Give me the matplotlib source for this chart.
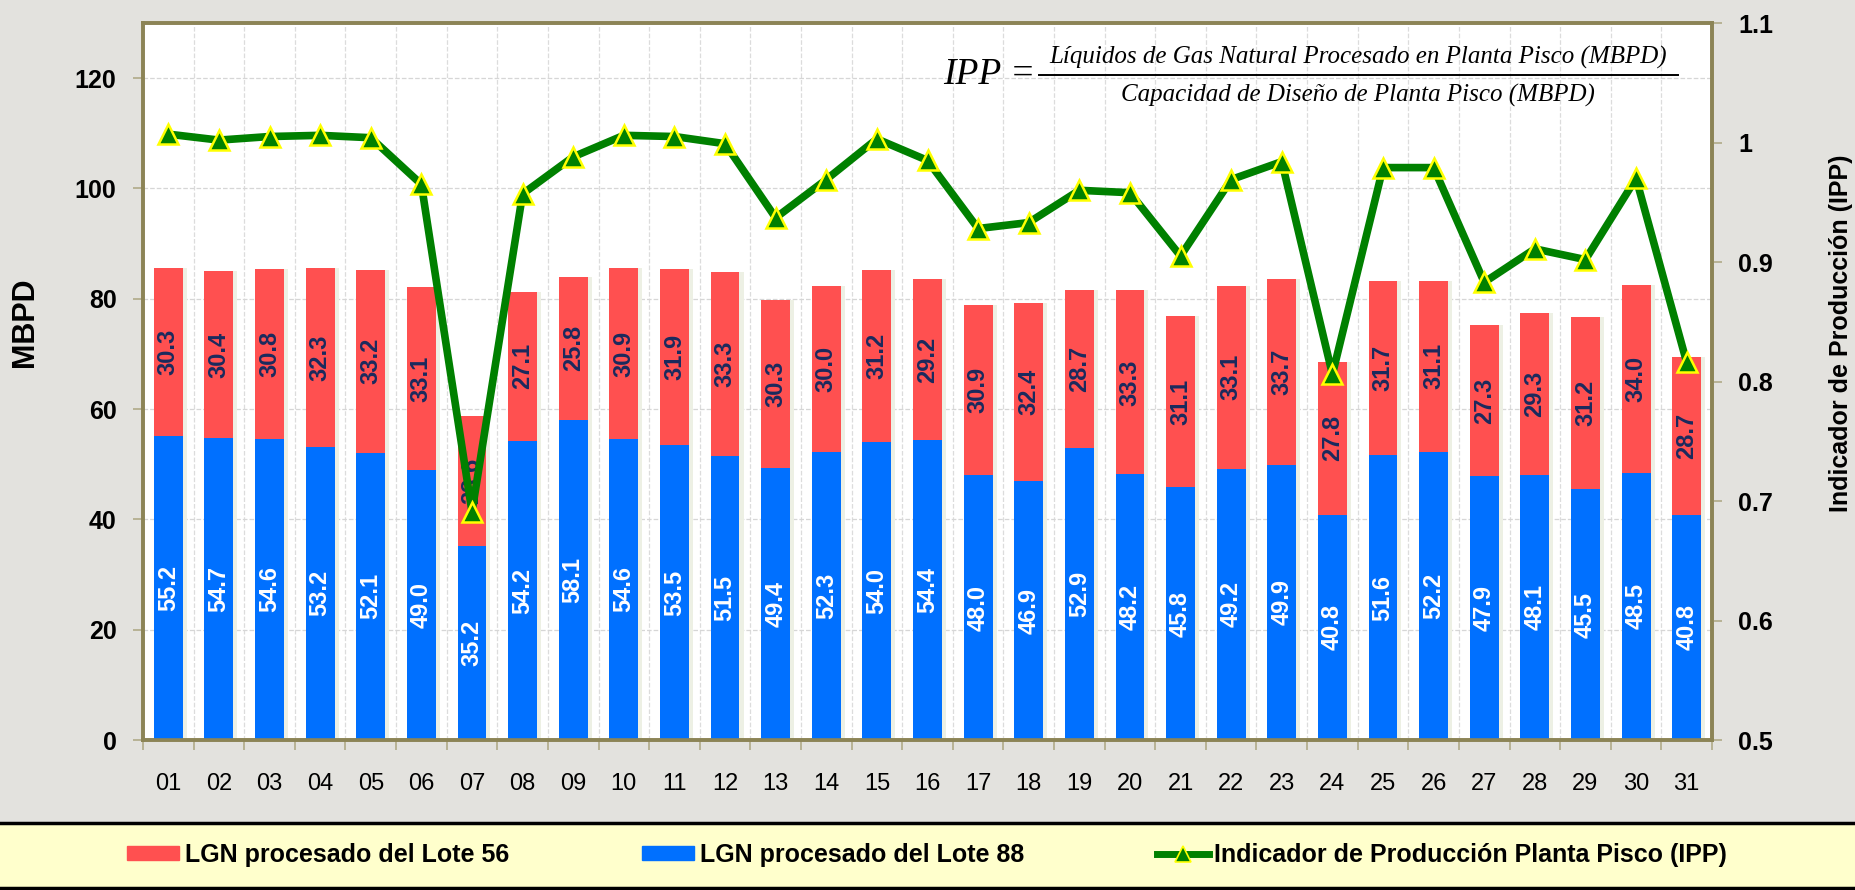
import numpy as np
import matplotlib
matplotlib.use("Agg")
import matplotlib.pyplot as plt
from matplotlib.patches import Rectangle, Patch
from matplotlib.lines import Line2D

# daily data (days of the month)
days = ['%02d' % d for d in range(1, 32)]
lote88 = [55.2, 54.7, 54.6, 53.2, 52.1, 49.0, 35.2, 54.2, 58.1, 54.6,
          53.5, 51.5, 49.4, 52.3, 54.0, 54.4, 48.0, 46.9, 52.9, 48.2,
          45.8, 49.2, 49.9, 40.8, 51.6, 52.2, 47.9, 48.1, 45.5, 48.5, 40.8]
lote56 = [30.3, 30.4, 30.8, 32.3, 33.2, 33.1, 23.6, 27.1, 25.8, 30.9,
          31.9, 33.3, 30.3, 30.0, 31.2, 29.2, 30.9, 32.4, 28.7, 33.3,
          31.1, 33.1, 33.7, 27.8, 31.7, 31.1, 27.3, 29.3, 31.2, 34.0, 28.7]
ipp = [1.007, 1.002, 1.005, 1.006, 1.004, 0.965, 0.691, 0.957, 0.988, 1.006,
       1.005, 0.999, 0.937, 0.969, 1.003, 0.985, 0.928, 0.933, 0.960, 0.958,
       0.905, 0.969, 0.984, 0.806, 0.979, 0.979, 0.883, 0.911, 0.902, 0.970, 0.816]
left_ticks = [0, 20, 40, 60, 80, 100, 120]
right_ticks = [0.5, 0.6, 0.7, 0.8, 0.9, 1.0, 1.1]
right_labels = ['0.5', '0.6', '0.7', '0.8', '0.9', '1', '1.1']

RED = '#ff5050'
BLUE = '#0070ff'
GREEN = '#008000'
NAVY = '#1a2a5e'
OLIVE = '#8c8456'
BG = '#e3e2de'

plt.rcParams['font.family'] = ['Liberation Sans', 'DejaVu Sans']

W, H = 1856, 890
fig = plt.figure(figsize=(W / 100, H / 100), dpi=100, facecolor=BG)
ax = fig.add_axes([143 / W, 1 - 740 / H, (1712 - 143) / W, (740 - 23) / H])
ax.set_facecolor('white')

x = np.arange(len(days))
bw = 0.57
total = np.array(lote88) + np.array(lote56)

# soft shadow behind the stacked bars
ax.bar(x + 0.08, total, bw, color='#edf0e4', zorder=1)
ax.bar(x, lote88, bw, color=BLUE, zorder=3)
ax.bar(x, lote56, bw, bottom=lote88, color=RED, zorder=3)

for i in range(len(days)):
    ax.text(x[i], lote88[i] / 2, '%.1f' % lote88[i], rotation=90,
            ha='center', va='center', color='white', fontsize=17,
            fontweight='bold', zorder=4)
    ax.text(x[i], lote88[i] + lote56[i] / 2, '%.1f' % lote56[i], rotation=90,
            ha='center', va='center', color=NAVY, fontsize=17,
            fontweight='bold', zorder=4)

ax.set_xlim(-0.5, len(days) - 0.5)
ax.set_ylim(0, 130)
ax.set_yticks(left_ticks)
ax.set_yticklabels([str(t) for t in left_ticks], fontsize=18, fontweight='bold')
ax.set_xticks(x)
ax.set_xticklabels(days, fontsize=17)
ax.set_xticks(np.arange(-0.5, len(days), 1), minor=True)
ax.tick_params(axis='x', which='major', length=0, pad=24)
ax.tick_params(axis='x', which='minor', length=7, color='#b0aa88', width=1.2)
ax.tick_params(axis='y', length=7, color='#b0aa88', width=1.2, pad=12)
ax.yaxis.grid(True, color='#d6d6d6', linestyle='--', linewidth=0.9)
ax.xaxis.grid(True, which='minor', color='#dcdcdc', linestyle='--', linewidth=0.9)
ax.set_axisbelow(True)

ax2 = ax.twinx()
ax2.plot(x, ipp, color=GREEN, lw=5.5, marker='^', ms=15, mfc=GREEN,
         mec='#ffff00', mew=1.8, zorder=5)
ax2.set_ylim(0.5, 1.1)
ax2.set_yticks(right_ticks)
ax2.set_yticklabels(right_labels, fontsize=18, fontweight='bold')
ax2.tick_params(axis='y', length=7, color='#b0aa88', width=1.2, pad=12)

for a in (ax, ax2):
    for s in a.spines.values():
        s.set_color(OLIVE)
        s.set_linewidth(2.6)

fig.text(25 / W, 1 - 322 / H, 'MBPD', rotation=90, ha='center', va='center',
         fontsize=22, fontweight='bold')
fig.text(1841 / W, 1 - 333 / H, 'Indicador de Producción (IPP)', rotation=90,
         ha='center', va='center', fontsize=18, fontweight='bold')

# formula box
serif = ['Liberation Serif', 'DejaVu Serif']
fig.text(943 / W, 1 - 75 / H, 'IPP =', family=serif, style='italic',
         fontsize=27, ha='left', va='center')
fig.add_artist(Line2D([1039 / W, 1678 / W], [1 - 75 / H, 1 - 75 / H],
                      color='black', lw=1.4))
fig.text(1358 / W, 1 - 57 / H,
         'Líquidos de Gas Natural Procesado en Planta Pisco (MBPD)',
         family=serif, style='italic', fontsize=18, ha='center', va='center')
fig.text(1358 / W, 1 - 95 / H, 'Capacidad de Diseño de Planta Pisco (MBPD)',
         family=serif, style='italic', fontsize=18, ha='center', va='center')

# legend band at the bottom
fig.add_artist(Rectangle((0, 0), 1, 1 - 823 / H, transform=fig.transFigure,
                         facecolor='#ffffcc', edgecolor='none'))
fig.add_artist(Line2D([0, 1], [1 - 823 / H] * 2, color='black', lw=2.5))
fig.add_artist(Line2D([0, 1], [1 - 888 / H] * 2, color='black', lw=2.5))

handles = [Patch(color=RED, label='LGN procesado del Lote 56'),
           Patch(color=BLUE, label='LGN procesado del Lote 88'),
           Line2D([], [], color=GREEN, lw=5, marker='^', ms=11, mfc=GREEN,
                  mec='#ffff00', mew=1.2,
                  label='Indicador de Producción Planta Pisco (IPP)')]
fig.legend(handles=handles, loc='center left',
           bbox_to_anchor=(127 / W, 1 - 855 / H), ncol=3, frameon=False,
           prop={'size': 18, 'weight': 'bold'}, borderpad=0,
           borderaxespad=0, handlelength=2.08, handleheight=0.52,
           handletextpad=0.24, columnspacing=5.3)

fig.savefig('out.png', dpi=100, facecolor=BG)
